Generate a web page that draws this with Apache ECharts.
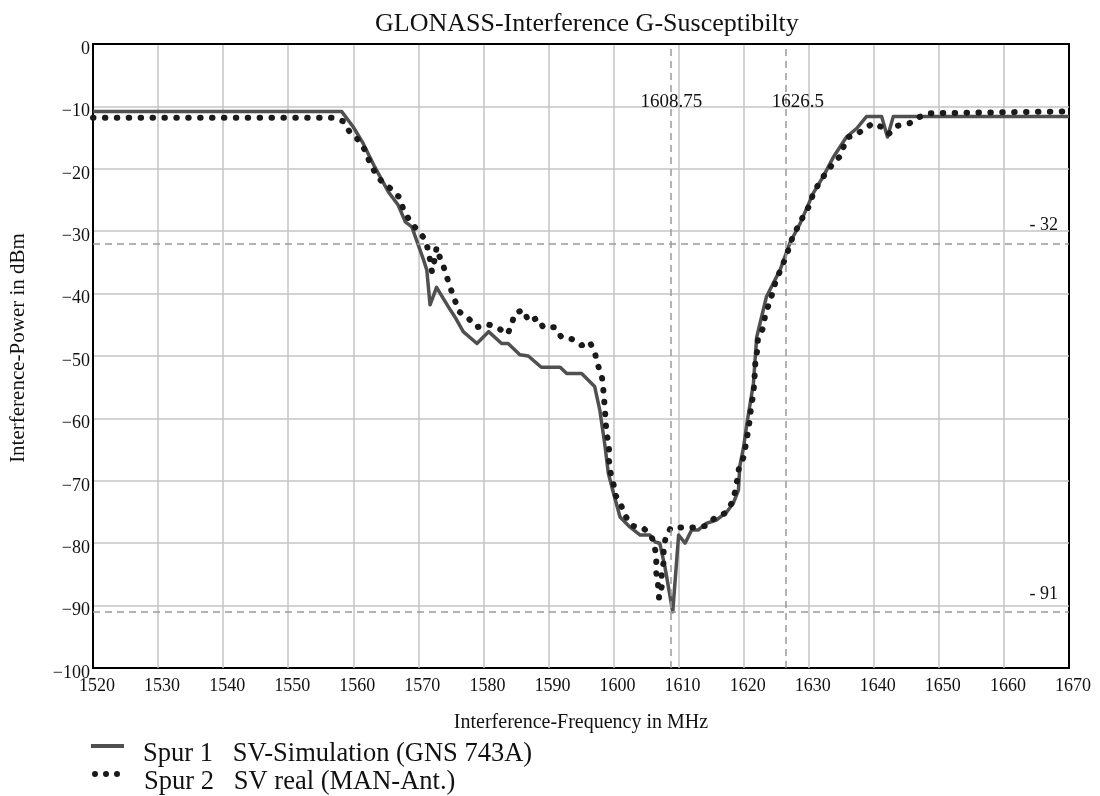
<!DOCTYPE html>
<html>
<head>
<meta charset="utf-8">
<script src="https://cdn.jsdelivr.net/npm/echarts@6.0.0/dist/echarts.min.js"></script>
<style>
  html, body { margin: 0; padding: 0; background: #fff; }
  #chart { width: 1100px; height: 796px; }
</style>
</head>
<body>
<div id="chart"></div>
<script>
// Spur 1: SV-Simulation (GNS 743A), solid line
const spur1Freq = [1520, 1558.2, 1560, 1561.5, 1563.3, 1565.4, 1566.9, 1568, 1569, 1570.8,
  1571.3, 1571.8, 1572.8, 1574.9, 1575.6, 1576.9, 1579, 1580.8, 1582.8, 1583.8,
  1585.6, 1586.9, 1588.9, 1591.8, 1592.8, 1595.1, 1597.1, 1597.9, 1598.7, 1599.2,
  1600, 1601, 1602.5, 1604.1, 1605.6, 1606.4, 1607.1, 1607.9, 1609.1, 1610,
  1611, 1612, 1613, 1614.3, 1615.8, 1617.4, 1618.4, 1619.2, 1619.4, 1620,
  1620.5, 1621, 1621.5, 1622, 1623.5, 1625.6, 1627.1, 1628.7, 1630.7, 1632.2,
  1633.8, 1635.8, 1637.4, 1638.9, 1641.2, 1642.1, 1643, 1670];
const spur1Power = [-10.8, -10.8, -13.3, -15.9, -19.7, -23.7, -25.8, -28.5, -29.3, -34.6,
  -36.2, -41.8, -39.0, -42.6, -43.7, -46.1, -48, -46.1, -48, -48,
  -49.8, -50, -51.8, -51.8, -52.8, -52.8, -54.9, -58.7, -64.5, -68.8,
  -72, -75.8, -77.4, -78.7, -78.7, -79.8, -80, -83.8, -91, -78.7,
  -80, -77.9, -77.9, -76.8, -76.3, -75, -73.6, -71.5, -67.7, -64.5,
  -60.8, -57.6, -54.4, -47, -40.5, -36.2, -31.9, -28.7, -23.9, -21.3,
  -18.1, -14.9, -13.5, -11.6, -11.6, -14.9, -11.6, -11.6];

// Spur 2: SV real (MAN-Ant.), dotted line
const spur2Freq = [1520, 1556.9, 1558.5, 1559.4, 1560.8, 1561.8, 1562.5, 1563.3, 1564.4, 1565.9,
  1567.1, 1567.7, 1568.6, 1569.5, 1570.8, 1571.4, 1571.8, 1572.1, 1572.5, 1572.8,
  1573.2, 1573.8, 1574.4, 1575, 1575.7, 1576.3, 1577.8, 1579, 1580.6, 1582.1,
  1583.7, 1584.3, 1584.8, 1586.1, 1587, 1588.3, 1589.2, 1591, 1592, 1593.6,
  1595.1, 1596.3, 1597.1, 1597.5, 1598.2, 1598.4, 1598.7, 1598.8, 1599, 1599.3,
  1599.3, 1599.5, 1600, 1600.2, 1601.2, 1601.8, 1602.8, 1604.5, 1605.8, 1606.3,
  1606.6, 1606.5, 1606.8, 1607, 1607.4, 1607.4, 1607.7, 1607.7, 1608, 1608.8,
  1610.7, 1612.5, 1614.3, 1615.6, 1617.1, 1618.1, 1618.7, 1619, 1619.3, 1620,
  1620.3, 1620.6, 1620.9, 1621.1, 1621.4, 1621.6, 1621.7, 1621.8, 1622.1, 1622.2,
  1623, 1623.3, 1623.9, 1624.5, 1624.9, 1625.7, 1626.5, 1627.6, 1628.5, 1629.2,
  1630.1, 1630.7, 1631.6, 1632.6, 1633.8, 1634.9, 1635.5, 1636.1, 1637.2, 1638.4,
  1639.9, 1641.4, 1642.3, 1643.7, 1645.5, 1647, 1648.5, 1670];
const spur2Power = [-11.8, -11.8, -12.4, -14, -15.4, -17, -18.9, -20.5, -22.1, -23.3,
  -24.6, -26.5, -28.2, -29.4, -31, -32.6, -34.6, -36.5, -34.6, -32.6,
  -33.9, -35.4, -37.4, -39.3, -41.3, -42.9, -44.1, -45.4, -44.9, -45.4,
  -46.5, -45.1, -43.2, -42.6, -44.5, -43.9, -45.4, -45.4, -47, -47.3,
  -48.3, -47.7, -49.3, -51.2, -53.2, -55, -58.9, -60.8, -62.7, -64.6,
  -66.7, -68.5, -70.5, -72.1, -74, -75.6, -77.2, -77.5, -78.8, -80.4,
  -82.3, -84.3, -86.2, -88.8, -87, -84.9, -83, -81.1, -79.1, -77.5,
  -77.5, -77.5, -77.2, -75.9, -75.2, -73.7, -71.7, -69.9, -67.8, -66.2,
  -64.4, -62.5, -60.5, -58.5, -56.6, -54.8, -52.9, -50.9, -49, -47.1,
  -45.5, -43.5, -41.6, -39.7, -38.1, -36.1, -34.1, -30.7, -29, -27.5,
  -25.9, -23.9, -22.3, -20.7, -19.1, -17.9, -16, -14.9, -14.6, -13.7,
  -12.7, -13.4, -14.4, -13.1, -12.7, -11.7, -11.1, -10.8];

// marker lines
const markerFreqs = [1608.75, 1626.5];
const markerPowers = [-32, -91];
const markerFreqLabelPower = -9.3;

const seriesNames = ['Spur 1   SV-Simulation (GNS 743A)', 'Spur 2   SV real (MAN-Ant.)'];

const FONT = 'Liberation Serif';
const zip = (xs, ys) => xs.map((x, i) => [x, ys[i]]);
const minus = v => String(v).replace('-', '\u2212');

const markLineStyle = { color: '#9a9a9a', width: 1.5, type: [7, 5] };
const legendText = { fontFamily: FONT, fontSize: 26.5, color: '#111' };

const chart = echarts.init(document.getElementById('chart'), null, { renderer: 'canvas' });
chart.setOption({
  animation: false,
  backgroundColor: '#fff',
  title: {
    text: 'GLONASS-Interference G-Susceptibilty',
    left: 375, top: 11, padding: 0,
    textStyle: { fontFamily: FONT, fontSize: 26, fontWeight: 'normal', color: '#111' }
  },
  grid: {
    left: 93, right: 31, top: 44, bottom: 128,
    outerBoundsMode: 'none', containLabel: false,
    show: true, borderColor: '#000', borderWidth: 2, backgroundColor: 'transparent'
  },
  legend: [
    {
      data: [{ name: seriesNames[0], icon: 'path://M0,0H33V4H0Z' }],
      left: 91, top: 741, padding: 0,
      itemWidth: 33, itemHeight: 4,
      itemStyle: { borderWidth: 0 },
      formatter: n => '{t|' + n + '}',
      textStyle: Object.assign({ rich: { t: Object.assign({ padding: [17, 0, 0, 14] }, legendText) } }, legendText)
    },
    {
      data: [{ name: seriesNames[1], icon: 'path://M0,3a3,3 0 1,0 6,0a3,3 0 1,0 -6,0M11,3a3,3 0 1,0 6,0a3,3 0 1,0 -6,0M22,3a3,3 0 1,0 6,0a3,3 0 1,0 -6,0' }],
      left: 92, top: 769, padding: 0,
      itemWidth: 28, itemHeight: 6,
      itemStyle: { borderWidth: 0 },
      formatter: n => '{t|' + n + '}',
      textStyle: Object.assign({ rich: { t: Object.assign({ padding: [17, 0, 0, 19] }, legendText) } }, legendText)
    }
  ],
  xAxis: {
    type: 'value', min: 1520, max: 1670, interval: 10,
    name: 'Interference-Frequency in MHz',
    nameLocation: 'middle', nameGap: 45,
    nameTextStyle: { fontFamily: FONT, fontSize: 20, color: '#111' },
    axisLine: { lineStyle: { color: '#000', width: 2 } },
    axisTick: { show: false },
    axisLabel: { fontFamily: FONT, fontSize: 18, color: '#111', margin: 9, padding: [0, 0, 0, 8], formatter: v => String(v) },
    splitLine: { showMinLine: false, showMaxLine: false, lineStyle: { color: '#c4c4c4', width: 1.5 } }
  },
  yAxis: {
    type: 'value', min: -100, max: 0, interval: 10,
    name: 'Interference-Power in dBm',
    nameLocation: 'middle', nameGap: 64, nameRotate: 90,
    nameTextStyle: { fontFamily: FONT, fontSize: 21, color: '#111', padding: [0, 0, 0, 16] },
    axisLine: { lineStyle: { color: '#000', width: 2 } },
    axisTick: { show: false },
    axisLabel: { fontFamily: FONT, fontSize: 18, color: '#111', margin: 3, verticalAlign: 'top', lineHeight: 10, formatter: minus },
    splitLine: { showMinLine: false, showMaxLine: false, lineStyle: { color: '#c4c4c4', width: 1.5 } }
  },
  series: [
    {
      name: seriesNames[0],
      type: 'line',
      data: zip(spur1Freq, spur1Power),
      showSymbol: false, symbol: 'none',
      color: '#505050',
      lineStyle: { color: '#505050', width: 3.5, join: 'round' },
      markLine: {
        silent: true, symbol: 'none',
        lineStyle: markLineStyle,
        label: {
          show: true, position: 'insideEndTop', distance: [11, 9],
          fontFamily: FONT, fontSize: 18, color: '#111',
          formatter: p => '- ' + Math.abs(p.value)
        },
        data: markerFreqs.map(f => ({ xAxis: f, label: { show: false } }))
          .concat(markerPowers.map(p => ({ yAxis: p })))
      },
      markPoint: {
        silent: true, symbol: 'rect', symbolSize: 1,
        itemStyle: { color: 'transparent' },
        label: { show: true, position: 'inside', fontFamily: FONT, fontSize: 19, color: '#111' },
        data: markerFreqs.map((f, i) => ({
          coord: [f, markerFreqLabelPower],
          label: { formatter: String(f), offset: [i === 0 ? 1 : 12, 0] }
        }))
      }
    },
    {
      name: seriesNames[1],
      type: 'line',
      data: zip(spur2Freq, spur2Power),
      showSymbol: false, symbol: 'none',
      color: '#1a1a1a',
      lineStyle: { color: '#1a1a1a', width: 6, cap: 'round', type: [0.5, 11.4] }
    }
  ]
});
</script>
</body>
</html>
